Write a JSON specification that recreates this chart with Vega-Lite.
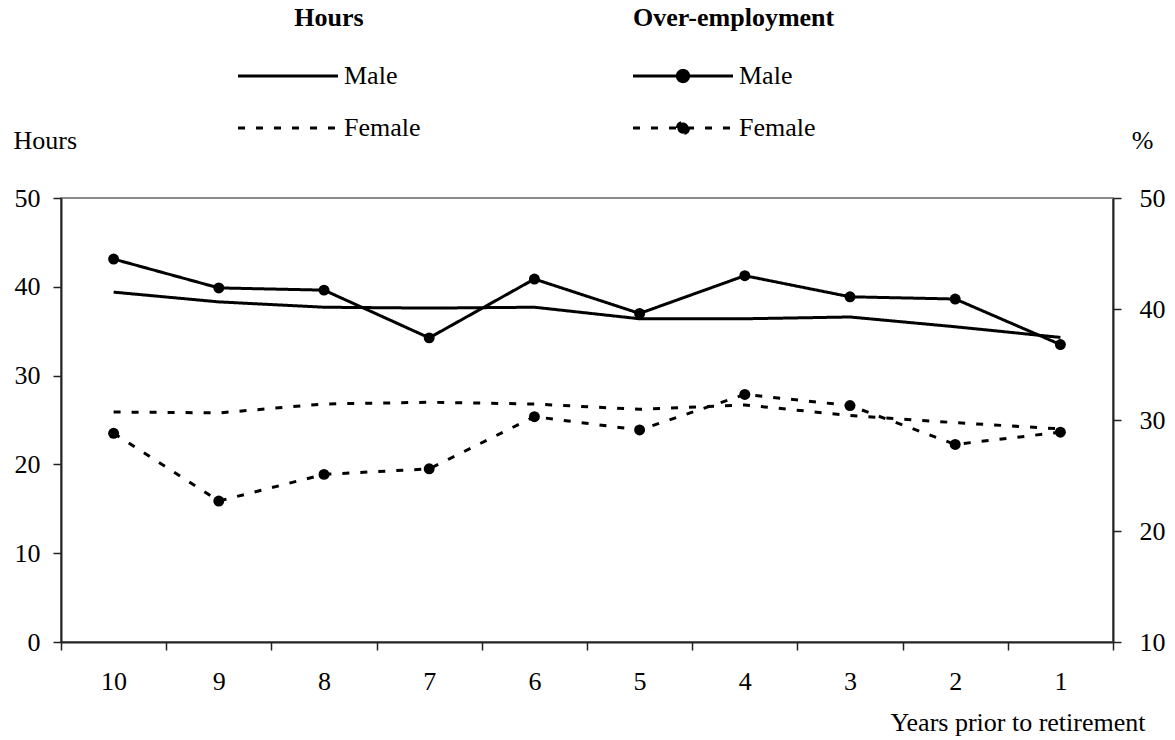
{
  "$schema": "https://vega.github.io/schema/vega-lite/v6.json",
  "autosize": "none",
  "width": 1052,
  "height": 444,
  "padding": {"left": 61, "top": 198, "right": 62, "bottom": 98},
  "background": "white",
  "config": {
    "font": "Liberation Serif, Times New Roman, serif",
    "view": {"stroke": "#8c8c8c", "strokeWidth": 2},
    "axis": {
      "grid": false,
      "domainColor": "#222222",
      "domainWidth": 2,
      "tickColor": "#222222",
      "tickWidth": 1.5,
      "tickSize": 8,
      "labelFont": "Liberation Serif, Times New Roman, serif",
      "labelFontSize": 26,
      "labelColor": "black",
      "titleFont": "Liberation Serif, Times New Roman, serif",
      "titleFontSize": 26,
      "titleFontWeight": "normal",
      "titleColor": "black"
    },
    "legend": {
      "labelFont": "Liberation Serif, Times New Roman, serif",
      "labelFontSize": 26,
      "labelColor": "black",
      "titleFont": "Liberation Serif, Times New Roman, serif",
      "titleFontSize": 26,
      "titleFontWeight": "bold",
      "titleColor": "black",
      "titleLimit": 400,
      "labelLimit": 200,
      "padding": 0
    }
  },
  "datasets": {
    "hours": [
      {"year": 10, "sex": "Male", "value": 39.4},
      {"year": 9, "sex": "Male", "value": 38.3},
      {"year": 8, "sex": "Male", "value": 37.7},
      {"year": 7, "sex": "Male", "value": 37.6},
      {"year": 6, "sex": "Male", "value": 37.7},
      {"year": 5, "sex": "Male", "value": 36.4},
      {"year": 4, "sex": "Male", "value": 36.4},
      {"year": 3, "sex": "Male", "value": 36.6},
      {"year": 2, "sex": "Male", "value": 35.5},
      {"year": 1, "sex": "Male", "value": 34.3},
      {"year": 10, "sex": "Female", "value": 25.9},
      {"year": 9, "sex": "Female", "value": 25.8},
      {"year": 8, "sex": "Female", "value": 26.8},
      {"year": 7, "sex": "Female", "value": 27.0},
      {"year": 6, "sex": "Female", "value": 26.8},
      {"year": 5, "sex": "Female", "value": 26.2},
      {"year": 4, "sex": "Female", "value": 26.7},
      {"year": 3, "sex": "Female", "value": 25.5},
      {"year": 2, "sex": "Female", "value": 24.7},
      {"year": 1, "sex": "Female", "value": 24.0}
    ],
    "oe": [
      {"year": 10, "sex": "Male", "value": 44.5},
      {"year": 9, "sex": "Male", "value": 41.9},
      {"year": 8, "sex": "Male", "value": 41.7},
      {"year": 7, "sex": "Male", "value": 37.4},
      {"year": 6, "sex": "Male", "value": 42.7},
      {"year": 5, "sex": "Male", "value": 39.6},
      {"year": 4, "sex": "Male", "value": 43.0},
      {"year": 3, "sex": "Male", "value": 41.1},
      {"year": 2, "sex": "Male", "value": 40.9},
      {"year": 1, "sex": "Male", "value": 36.8},
      {"year": 10, "sex": "Female", "value": 28.8},
      {"year": 9, "sex": "Female", "value": 22.7},
      {"year": 8, "sex": "Female", "value": 25.1},
      {"year": 7, "sex": "Female", "value": 25.6},
      {"year": 6, "sex": "Female", "value": 30.3},
      {"year": 5, "sex": "Female", "value": 29.1},
      {"year": 4, "sex": "Female", "value": 32.3},
      {"year": 3, "sex": "Female", "value": 31.3},
      {"year": 2, "sex": "Female", "value": 27.8},
      {"year": 1, "sex": "Female", "value": 28.9}
    ]
  },
  "encoding": {
    "x": {
      "field": "year",
      "type": "ordinal",
      "sort": "descending",
      "scale": {"type": "band", "paddingInner": 0, "paddingOuter": 0},
      "axis": {
        "title": "Years prior to retirement",
        "labelAngle": 0,
        "tickBand": "extent",
        "labelPadding": 18,
        "titleAnchor": "end",
        "titleAlign": "right",
        "titleBaseline": "middle",
        "titleX": 1084,
        "titleY": 80
      }
    }
  },
  "layer": [
    {
      "data": {"name": "hours"},
      "mark": {"type": "line", "color": "black", "strokeWidth": 3},
      "encoding": {
        "y": {
          "field": "value",
          "type": "quantitative",
          "scale": {"domain": [0, 50]},
          "axis": {
            "orient": "left",
            "values": [0, 10, 20, 30, 40, 50],
            "labelPadding": 13,
            "title": "Hours",
            "titleAngle": 0,
            "titleAlign": "left",
            "titleBaseline": "middle",
            "titleX": -48,
            "titleY": -58
          }
        },
        "strokeDash": {
          "field": "sex",
          "type": "nominal",
          "scale": {"domain": ["Male", "Female"], "range": [[1, 0], [7, 11]]},
          "legend": {
            "title": "Hours",
            "orient": "none",
            "legendX": 177,
            "legendY": -193,
            "titleAnchor": "middle",
            "titlePadding": 31,
            "symbolType": "M-4,0H4",
            "symbolSize": 625,
            "symbolStrokeWidth": 3,
            "symbolStrokeColor": "black",
            "symbolOffset": 36,
            "labelOffset": 42,
            "rowPadding": 25
          }
        }
      }
    },
    {
      "data": {"name": "oe"},
      "encoding": {
        "y": {
          "field": "value",
          "type": "quantitative",
          "scale": {"domain": [10, 50]},
          "axis": {
            "orient": "right",
            "values": [10, 20, 30, 40, 50],
            "labelPadding": 18,
            "title": "%",
            "titleAngle": 0,
            "titleAlign": "center",
            "titleBaseline": "middle",
            "titleX": 29,
            "titleY": -58
          }
        }
      },
      "layer": [
        {
          "mark": {"type": "line", "color": "black", "strokeWidth": 3},
          "encoding": {
            "strokeDash": {
              "field": "sex",
              "type": "nominal",
              "scale": {"domain": ["Male", "Female"], "range": [[1, 0], [7, 11]]},
              "legend": {
                "title": "Over-employment",
                "orient": "none",
                "legendX": 572,
                "legendY": -193,
                "titleAnchor": "start",
                "titlePadding": 31,
                "symbolType": "M-4,0H4M-0.45,0A0.45,0.45,0,1,1,0.45,0A0.45,0.45,0,1,1,-0.45,0",
                "symbolSize": 625,
                "symbolStrokeWidth": 3,
                "symbolStrokeColor": "black",
                "symbolFillColor": "black",
                "symbolOffset": 36,
                "labelOffset": 42,
                "rowPadding": 25
              }
            }
          }
        },
        {
          "mark": {"type": "point", "filled": true, "shape": "circle", "size": 120, "color": "black", "opacity": 1},
          "encoding": {
            "detail": {"field": "sex", "type": "nominal"}
          }
        }
      ]
    }
  ],
  "resolve": {
    "scale": {"y": "independent", "strokeDash": "independent"},
    "axis": {"y": "independent"},
    "legend": {"strokeDash": "independent"}
  }
}
